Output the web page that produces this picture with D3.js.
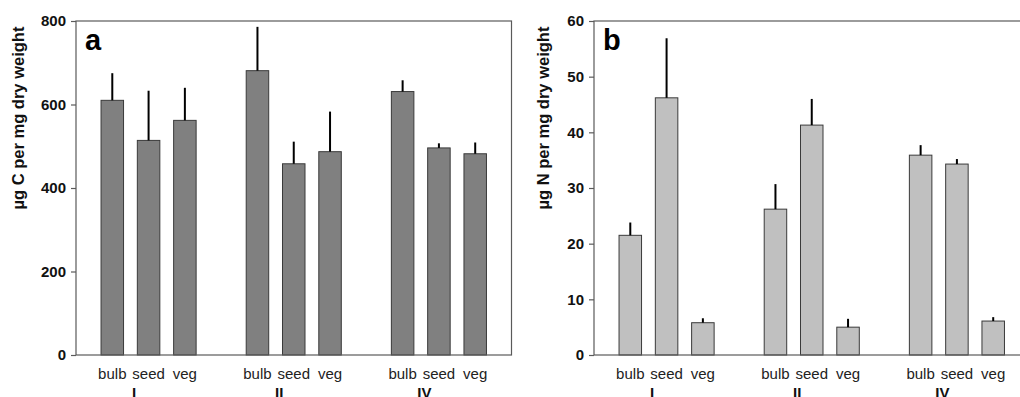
<!DOCTYPE html>
<html lang="en">
<head>
  <meta charset="UTF-8">
  <title>C and N per mg dry weight</title>
  <script src="https://d3js.org/d3.v7.min.js"></script>
  <style>
    * { margin: 0; padding: 0; box-sizing: border-box; }
    body { width: 1020px; height: 397px; background: #fff; overflow: hidden;
           font-family: "Liberation Sans", Arial, sans-serif; }
  </style>
</head>
<body>
  <div id="chart"></div>

  <script>
    // Data
    const categories = ['bulb', 'seed', 'veg'];
    const groups = ['I', 'II', 'IV'];

    const carbonMean = [610, 514, 562, 681, 458, 487, 631, 496, 482];
    const carbonErr  = [65, 119, 78, 105, 53, 96, 27, 11, 27];
    const carbonTicks = [0, 200, 400, 600, 800];

    const nitrogenMean = [21.5, 46.2, 5.8, 26.2, 41.3, 5.0, 35.9, 34.3, 6.1];
    const nitrogenErr  = [2.3, 10.7, 0.8, 4.5, 4.7, 1.5, 1.8, 0.9, 0.7];
    const nitrogenTicks = [0, 10, 20, 30, 40, 50, 60];

    const width = 1020, height = 397;

    const svg = d3.select('#chart')
      .append('svg')
      .attr('width', width)
      .attr('height', height);

    function panel(opts) {
      const { left, top, w, h, mean, err, ticks, yMax, fill, letter, title, titleX } = opts;

      const x = d3.scaleLinear().domain([0, 12]).range([left, left + w]);
      const y = d3.scaleLinear().domain([0, yMax]).range([top + h, top]);
      const barW = x(0.62) - x(0);

      const rows = mean.map((m, i) => ({
        value: m,
        err: err[i],
        pos: Math.floor(i / 3) * 4 + (i % 3) + 1,
        cat: categories[i % 3]
      }));

      const g = svg.append('g');

      // bars
      g.selectAll('rect.bar')
        .data(rows)
        .enter()
        .append('rect')
        .attr('class', 'bar')
        .attr('x', d => x(d.pos) - barW / 2)
        .attr('y', d => y(d.value))
        .attr('width', barW)
        .attr('height', d => y(0) - y(d.value))
        .attr('fill', fill)
        .attr('stroke', '#3a3a3a')
        .attr('stroke-width', 1);

      // upper error bars, no caps
      g.selectAll('line.err')
        .data(rows)
        .enter()
        .append('line')
        .attr('x1', d => x(d.pos))
        .attr('x2', d => x(d.pos))
        .attr('y1', d => y(d.value))
        .attr('y2', d => y(d.value + d.err))
        .attr('stroke', '#000')
        .attr('stroke-width', 2);

      // frame
      g.append('rect')
        .attr('x', left)
        .attr('y', top)
        .attr('width', w)
        .attr('height', h)
        .attr('fill', 'none')
        .attr('stroke', '#5a5a5a')
        .attr('stroke-width', 1.2);

      // y axis
      const yAxis = g.append('g')
        .attr('transform', `translate(${left},0)`)
        .call(d3.axisLeft(y).tickValues(ticks).tickSize(5).tickPadding(5));
      yAxis.select('.domain').remove();
      yAxis.selectAll('line').attr('stroke', '#5a5a5a').attr('stroke-width', 1.2);
      yAxis.selectAll('text')
        .attr('font-size', 15)
        .attr('font-weight', 'bold')
        .attr('font-family', '"Liberation Sans", Arial, sans-serif')
        .attr('fill', '#111');

      // category labels
      g.selectAll('text.cat')
        .data(rows)
        .enter()
        .append('text')
        .attr('x', d => x(d.pos))
        .attr('y', 379)
        .attr('text-anchor', 'middle')
        .attr('font-size', 15)
        .attr('fill', '#222')
        .text(d => d.cat);

      // group labels (cut off at the bottom edge, as in the source)
      g.selectAll('text.grp')
        .data(groups)
        .enter()
        .append('text')
        .attr('x', (d, i) => x(i * 4 + 1.6))
        .attr('y', 398)
        .attr('text-anchor', 'middle')
        .attr('font-size', 15)
        .attr('font-weight', 'bold')
        .attr('fill', '#111')
        .text(d => d);

      // panel letter
      g.append('text')
        .attr('x', left + 9)
        .attr('y', top + 29)
        .attr('font-size', 29)
        .attr('font-weight', 'bold')
        .attr('fill', '#000')
        .text(letter);

      // y title
      g.append('text')
        .attr('transform', `translate(${titleX},118) rotate(-90)`)
        .attr('text-anchor', 'middle')
        .attr('font-size', 16.5)
        .attr('font-weight', 'bold')
        .attr('fill', '#111')
        .text(title);
    }

    panel({
      left: 76, top: 21, w: 435.5, h: 334,
      mean: carbonMean, err: carbonErr, ticks: carbonTicks, yMax: 800,
      fill: '#808080', letter: 'a',
      title: 'µg C per mg dry weight', titleX: 24
    });

    panel({
      left: 594, top: 21, w: 435.5, h: 334,
      mean: nitrogenMean, err: nitrogenErr, ticks: nitrogenTicks, yMax: 60,
      fill: '#c0c0c0', letter: 'b',
      title: 'µg N per mg dry weight', titleX: 549
    });
  </script>
</body>
</html>
